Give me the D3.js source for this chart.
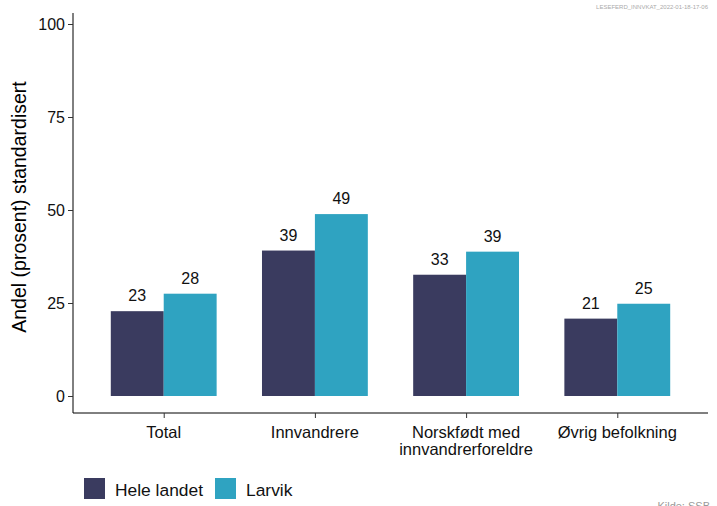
<!DOCTYPE html>
<html>
<head>
<meta charset="utf-8">
<script src="https://cdn.jsdelivr.net/npm/d3@7"></script>
<style>
  body { margin: 0; background: #fff; }
  text { font-family: "Liberation Sans", Arial, sans-serif; }
</style>
</head>
<body>
<svg id="chart" width="717" height="506"></svg>
<script>
// data
let categories = ["Total", "Innvandrere", "Norskfødt med\ninnvandrerforeldre", "Øvrig befolkning"],
    series = ["Hele landet", "Larvik"],
    heleLandet = [22.8, 39.1, 32.6, 20.8],
    larvik = [27.5, 48.9, 38.8, 24.8],
    yTicks = [0, 25, 50, 75, 100];

let colors = ["#3a3b5f", "#2fa3c1"];

// panel edges
let margin = {top: 24, right: 9, bottom: 110, left: 73},
    width = 717 - margin.left - margin.right,
    height = 396 - margin.top;

let svg = d3.select("#chart");

// x: ggplot style discrete scale with 0.6 expansion on each side
let x = d3.scalePoint()
  .domain(categories)
  .range([margin.left, margin.left + width])
  .padding(0.6);

let step = x.step(),
    barW = step * 0.35;

let y = d3.scaleLinear()
  .domain([0, 100])
  .range([396, 24]);

let rows = categories.map((c, i) => ({cat: c, vals: [heleLandet[i], larvik[i]]}));

// bars
let groups = svg.selectAll("g.cat")
  .data(rows)
  .enter().append("g")
    .attr("class", "cat");

groups.selectAll("rect")
  .data(d => d.vals.map((v, j) => ({cat: d.cat, v: v, j: j})))
  .enter().append("rect")
    .attr("x", d => x(d.cat) - barW + d.j * barW)
    .attr("y", d => y(d.v))
    .attr("width", barW)
    .attr("height", d => y(0) - y(d.v))
    .attr("fill", d => colors[d.j]);

// value labels
groups.selectAll("text.val")
  .data(d => d.vals.map((v, j) => ({cat: d.cat, v: v, j: j})))
  .enter().append("text")
    .attr("class", "val")
    .attr("x", d => x(d.cat) - barW / 2 + d.j * barW)
    .attr("y", d => y(d.v) - 10)
    .attr("text-anchor", "middle")
    .style("font-size", "16px")
    .style("fill", "#111")
    .text(d => Math.round(d.v));

// y axis
let yAxis = svg.append("g")
  .attr("transform", "translate(" + margin.left + ",0)")
  .call(d3.axisLeft(y).tickValues(yTicks).tickSize(5).tickPadding(3));
yAxis.select(".domain").attr("d", "M0,13V413").attr("stroke", "#000");
yAxis.selectAll(".tick line").attr("stroke", "#333");
yAxis.selectAll(".tick text")
  .style("font-size", "16px")
  .style("fill", "#111")
  .style("font-family", "'Liberation Sans', Arial, sans-serif");

// x axis
let xAxis = svg.append("g")
  .attr("transform", "translate(0,413)")
  .call(d3.axisBottom(x).tickSize(5).tickSizeOuter(0).tickFormat(""));
xAxis.select(".domain").attr("d", "M" + margin.left + ",0H" + (margin.left + width)).attr("stroke", "#000");
xAxis.selectAll(".tick line").attr("stroke", "#333");

categories.forEach(c => {
  let lines = c.split("\n");
  let t = svg.append("text")
    .attr("x", x(c))
    .attr("y", 438)
    .attr("text-anchor", "middle")
    .style("font-size", "16.5px")
    .style("fill", "#111");
  lines.forEach((l, i) => {
    t.append("tspan").attr("x", x(c)).attr("dy", i === 0 ? 0 : 17).text(l);
  });
});

// y axis title
svg.append("text")
  .attr("transform", "translate(26,207) rotate(-90)")
  .attr("text-anchor", "middle")
  .style("font-size", "19.5px")
  .style("fill", "#000")
  .text("Andel (prosent) standardisert");

// legend
let legendX = [84, 215];
series.forEach((s, i) => {
  svg.append("rect")
    .attr("x", legendX[i])
    .attr("y", 478)
    .attr("width", 21)
    .attr("height", 21)
    .attr("fill", colors[i]);
  svg.append("text")
    .attr("x", legendX[i] + 31)
    .attr("y", 496)
    .style("font-size", "17.4px")
    .style("fill", "#111")
    .text(s);
});

// caption and stamp
svg.append("text")
  .attr("x", 710)
  .attr("y", 510)
  .attr("text-anchor", "end")
  .style("font-size", "11px")
  .style("fill", "#999")
  .text("Kilde: SSB");

svg.append("text")
  .attr("x", 708)
  .attr("y", 9)
  .attr("text-anchor", "end")
  .style("font-size", "6px")
  .style("fill", "#aaa")
  .text("LESEFERD_INNVKAT_2022-01-18-17-06");
</script>
</body>
</html>
